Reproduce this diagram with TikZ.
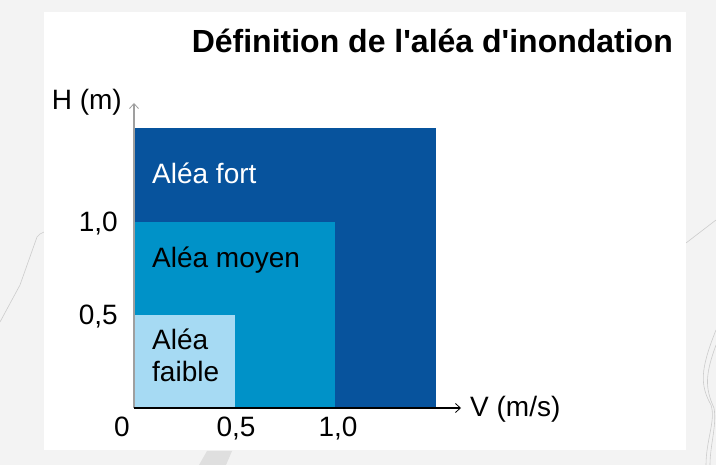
\documentclass[tikz,border=0pt]{standalone}
\usepackage{fontspec}
\setmainfont{Liberation Sans}
\usepackage{xcolor}
\usetikzlibrary{arrows.meta}
\definecolor{fort-blue}{HTML}{07539D}
\definecolor{moyen-blue}{HTML}{0092C8}
\definecolor{faible-blue}{HTML}{A6DAF3}
\definecolor{back-gray}{HTML}{F3F3F3}
\tikzset{
    zone/.style = {rectangle, inner sep=0pt, anchor=south west},
    zone-label/.style = {font=\fontsize{28}{33}\selectfont, inner sep=0pt, anchor=base west, align=left},
    tick-label/.style = {font=\fontsize{28}{33}\selectfont, inner sep=0pt},
    axis-line/.style = {line width=1.4pt, -{Straight Barb[length=5pt, width=9pt, line width=0.8pt]}},
    deco-line/.style = {draw=gray!40, line width=0.6pt},
}

\begin{document}
\begin{tikzpicture}[x=1pt, y=-1pt]
\useasboundingbox (0,0) rectangle (716,465);
% page background and panel
\fill[back-gray] (0,0) rectangle (716,465);
\draw[deco-line] (0,322) -- (20,285) -- (37,237) -- (40,234) -- (44,232);
\draw[deco-line] (686,243) -- (716,220);
\draw[deco-line] (716,330) .. controls (700,370) and (700,385) .. (711,405) .. controls (716,420) and (706,440) .. (706,465);
\draw[deco-line] (716,345) .. controls (705,375) and (705,388) .. (714,408) .. controls (717,425) and (710,445) .. (710,465);
\fill[gray!25] (199,465) -- (207,451) -- (232,451) -- (226,465) -- cycle;
\fill[white] (44,12) rectangle (686,450);

% title
\node[font=\fontsize{32}{38}\selectfont\bfseries, inner sep=0pt, anchor=base east] (title) at (673,53) {Définition de l\textquotesingle{}aléa d\textquotesingle{}inondation};

% zones
\coordinate (origin) at (134,408);
\node[zone, fill=fort-blue, minimum width=302pt, minimum height=280pt] (fort-zone) at (origin) {};
\node[zone, fill=moyen-blue, minimum width=201pt, minimum height=186pt] (moyen-zone) at (origin) {};
\node[zone, fill=faible-blue, minimum width=101pt, minimum height=93pt] (faible-zone) at (origin) {};

\node[zone-label, text=white] (fort-text) at (152,184) {Aléa fort};
\node[zone-label] (moyen-text) at (152,268) {Aléa moyen};
\node[zone-label] (faible-text) at (152,350) {Aléa};
\node[zone-label] (faible-text2) at (152,382) {faible};

% axes
\coordinate (h-top) at (134,103);
\coordinate (v-end) at (461,408);
\draw[axis-line, draw=gray!75] (origin) -- (h-top);
\draw[axis-line, draw=black] (origin) -- (v-end);

\node[tick-label, anchor=base east] (h-label) at (122,110) {H (m)};
\node[tick-label, anchor=base west] (v-label) at (470,417) {V (m/s)};
\node[tick-label, anchor=base east] (h-one) at (118,232) {1,0};
\node[tick-label, anchor=base east] (h-half) at (118,325) {0,5};
\node[tick-label, anchor=base] (v-zero) at (122,437) {0};
\node[tick-label, anchor=base] (v-half) at (236,437) {0,5};
\node[tick-label, anchor=base] (v-one) at (338,437) {1,0};
\end{tikzpicture}
\end{document}
